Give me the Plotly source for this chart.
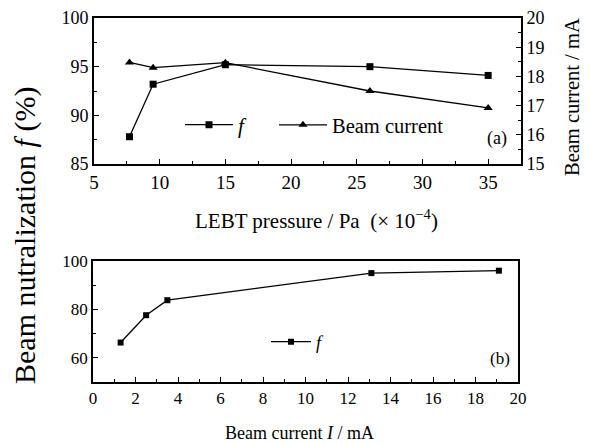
import plotly.graph_objects as go

# Panel (a): LEBT pressure (x10^-4 Pa)
pressure = [7.7, 9.5, 15.0, 26.0, 35.0]
neutralization_a = [87.8, 93.2, 95.2, 95.0, 94.1]
beam_current_a = [18.48, 18.3, 18.47, 17.5, 16.92]

# Panel (b): beam current (mA)
beam_current_b = [1.3, 2.5, 3.5, 13.1, 19.1]
neutralization_b = [66.3, 77.6, 83.8, 95.0, 96.0]

FONT = "'Liberation Serif', 'DejaVu Serif', serif"
W, H = 591, 445
OFF = 8  # page body margin offset

fig = go.Figure()

fig.add_trace(go.Scatter(
    x=pressure, y=neutralization_a, mode="lines+markers", name="<i>f</i>",
    line=dict(color="black", width=1.3),
    marker=dict(symbol="square", size=7, color="black"),
    xaxis="x", yaxis="y", legend="legend"))
fig.add_trace(go.Scatter(
    x=pressure, y=beam_current_a, mode="lines+markers", name="Beam current",
    line=dict(color="black", width=1.3),
    marker=dict(symbol="triangle-up", size=8, color="black"),
    xaxis="x", yaxis="y2", legend="legend2"))
fig.add_trace(go.Scatter(
    x=beam_current_b, y=neutralization_b, mode="lines+markers", name="<i>f</i>",
    line=dict(color="black", width=1.3),
    marker=dict(symbol="square", size=6, color="black"),
    xaxis="x2", yaxis="y3", legend="legend3"))

def px_x(p):
    return (p - OFF) / W

def px_y(p):
    return 1 - (p - OFF) / H

axis_common = dict(showline=True, linecolor="black", linewidth=1.6,
                   ticks="inside", ticklen=5, tickwidth=1.2, tickcolor="black",
                   showgrid=False, zeroline=False, automargin=False,
                   ticklabeloverflow="allow")

fig.update_layout(
    width=W, height=H,
    margin=dict(l=0, r=0, t=0, b=0),
    paper_bgcolor="white", plot_bgcolor="white",
    font=dict(family=FONT, color="black", size=17),
    xaxis=dict(domain=[px_x(94), px_x(521)], range=[5, 37.5], dtick=5,
               anchor="y", mirror=True,
               minor=dict(dtick=2.5, ticks="inside", ticklen=3, tickcolor="black"),
               tickfont=dict(size=19), **axis_common),
    yaxis=dict(domain=[px_y(164), px_y(18)], range=[85, 100], dtick=5,
               anchor="x",
               minor=dict(dtick=2.5, ticks="inside", ticklen=3, tickcolor="black"),
               tickfont=dict(size=18), **axis_common),
    yaxis2=dict(range=[15, 20], dtick=1, overlaying="y", side="right", anchor="x",
                minor=dict(dtick=0.5, ticks="inside", ticklen=3, tickcolor="black"),
                tickfont=dict(size=18), **axis_common),
    xaxis2=dict(domain=[px_x(93), px_x(518)], range=[0, 20], dtick=2,
                anchor="y3", mirror=True,
                minor=dict(dtick=1, ticks="inside", ticklen=3, tickcolor="black"),
                tickfont=dict(size=17), **axis_common),
    yaxis3=dict(domain=[px_y(382), px_y(261)], range=[50, 100], dtick=20,
                tick0=0, anchor="x2", mirror=True,
                minor=dict(dtick=10, ticks="inside", ticklen=3, tickcolor="black"),
                tickfont=dict(size=17), **axis_common),
    showlegend=True,
    legend=dict(x=px_x(180), y=px_y(125), xanchor="left", yanchor="middle",
                itemwidth=48,
                bgcolor="rgba(0,0,0,0)", font=dict(size=21)),
    legend2=dict(x=px_x(274), y=px_y(125), xanchor="left", yanchor="middle",
                 itemwidth=48,
                 bgcolor="rgba(0,0,0,0)", font=dict(size=20.5)),
    legend3=dict(x=px_x(266), y=px_y(342), xanchor="left", yanchor="middle",
                 itemwidth=40,
                 bgcolor="rgba(0,0,0,0)", font=dict(size=18)),
)

annotations = [
    dict(text="Beam nutralization <i>f</i> (%)", x=px_x(25), y=px_y(236),
         textangle=-90, font=dict(size=30)),
    dict(text="Beam current / mA", x=px_x(572), y=px_y(97),
         textangle=-90, font=dict(size=20.5)),
    dict(text="LEBT pressure / Pa  (\u00d7 10<sup>\u22124</sup>)", x=px_x(316), y=px_y(219),
         font=dict(size=21)),
    dict(text="Beam current <i>I</i> / mA", x=px_x(299), y=px_y(433),
         font=dict(size=18)),
    dict(text="(a)", x=px_x(497), y=px_y(138), font=dict(size=18)),
    dict(text="(b)", x=px_x(500), y=px_y(358), font=dict(size=17)),
]
for a in annotations:
    a.update(xref="paper", yref="paper", showarrow=False,
             xanchor="center", yanchor="middle")
fig.update_layout(annotations=annotations)

fig.write_html("out.html")
